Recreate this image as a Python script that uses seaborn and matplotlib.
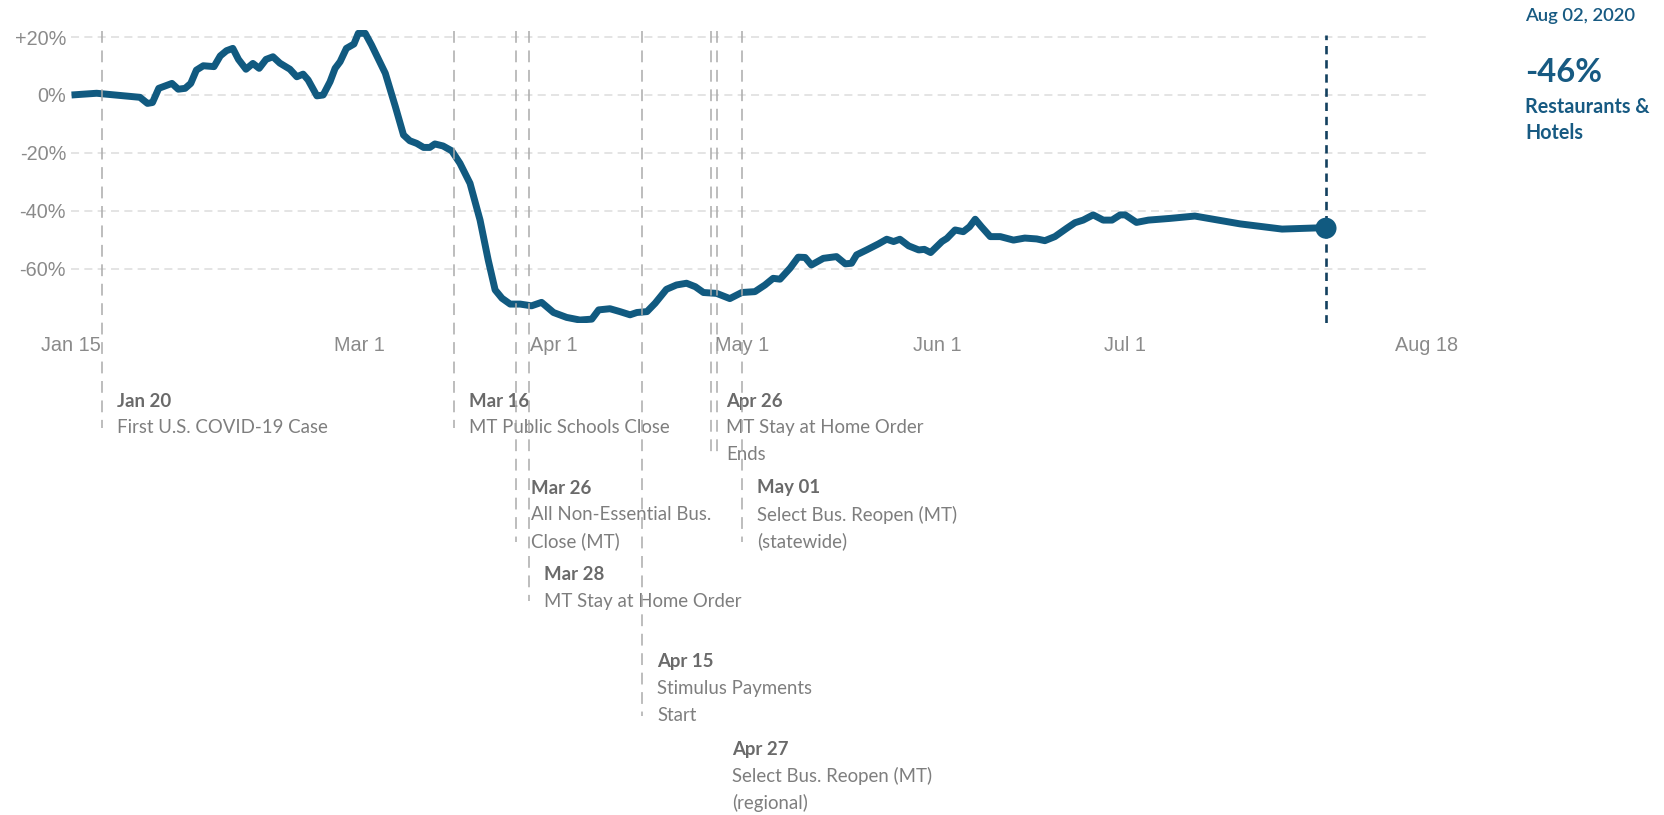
import numpy as np
import pandas as pd
import matplotlib
matplotlib.use("Agg")
import matplotlib.pyplot as plt
import matplotlib.dates as mdates
import matplotlib.transforms as mtransforms
from matplotlib.lines import Line2D
import seaborn as sns

# Consumer spending on restaurants & hotels, % change vs. January baseline
start_date = "2020-01-15"
days_since_start = [
    0.1, 4.1, 11.0, 12.2, 13.0, 14.0, 16.1, 17.1, 18.2, 19.1, 20.0, 21.1, 22.8,
    23.8, 24.8, 25.8, 26.7, 27.9, 29.0, 30.0, 31.1, 32.2, 33.3, 34.9, 36.0,
    37.0, 37.8, 39.2, 40.2, 41.3, 42.1, 42.9, 43.9, 45.1, 45.8, 46.9, 47.9,
    50.1, 51.7, 53.0, 54.0, 55.1, 56.2, 57.2, 58.0, 59.3, 60.7, 62.0, 63.6,
    65.2, 66.5, 67.6, 68.7, 70.0, 71.6, 73.4, 75.0, 76.9, 79.0, 81.1, 83.0,
    84.1, 85.9, 87.5, 89.1, 90.2, 91.8, 93.1, 94.9, 96.5, 98.1, 99.5, 100.8,
    102.9, 105.0, 106.9, 109.0, 110.6, 111.9, 113.0, 114.6, 115.9, 117.0,
    118.0, 119.9, 122.0, 123.4, 124.4, 125.2, 126.8, 128.7, 130.0, 131.1,
    132.1, 133.5, 135.1, 136.0, 137.0, 138.8, 139.6, 140.9, 142.2, 143.2,
    144.1, 145.1, 146.5, 148.1, 150.2, 152.0, 153.9, 155.2, 156.8, 158.7,
    160.0, 161.3, 162.9, 164.5, 165.9, 167.2, 168.0, 169.8, 171.7, 175.2,
    179.1, 186.3, 193.0, 198.5, 200.0,
]
spending_change = [
    0.0, 0.6, -0.8, -2.9, -2.6, 2.3, 4.0, 2.0, 2.3, 4.0, 8.6, 10.1, 9.8,
    13.5, 15.3, 16.1, 12.3, 8.9, 10.9, 9.2, 12.3, 13.2, 11.0, 8.9, 6.3,
    7.2, 5.2, -0.3, 0.0, 4.6, 9.2, 11.5, 16.1, 17.6, 21.3, 21.3, 17.3,
    7.5, -4.0, -13.8, -15.8, -16.7, -18.1, -18.1, -16.9, -17.6, -19.3, -23.6, -30.5,
    -43.2, -57.0, -67.3, -70.2, -72.2, -72.2, -72.8, -71.6, -75.1, -76.8, -77.7, -77.4,
    -74.2, -73.8, -74.8, -75.9, -75.1, -74.8, -71.9, -67.1, -65.6, -65.0, -66.2, -68.2,
    -68.5, -70.3, -68.2, -67.9, -65.6, -63.3, -63.6, -59.8, -56.0, -56.1,
    -58.7, -56.4, -55.8, -58.3, -58.1, -55.2, -53.5, -51.4, -49.8, -50.6,
    -49.8, -52.1, -53.5, -53.3, -54.4, -50.6, -49.5, -46.6, -47.2, -45.5,
    -42.9, -45.5, -48.9, -48.9, -50.1, -49.4, -49.7, -50.3, -48.9, -46.0,
    -44.1, -43.2, -41.4, -43.2, -43.2, -41.4, -41.4, -44.0, -43.2, -42.6,
    -41.8, -44.5, -46.3, -45.9, -46.0,
]
series_name = "Restaurants &\nHotels"

x_tick_dates = ["2020-01-15", "2020-03-01", "2020-04-01", "2020-05-01",
                "2020-06-01", "2020-07-01", "2020-08-18"]
x_tick_labels = ["Jan 15", "Mar 1", "Apr 1", "May 1", "Jun 1", "Jul 1", "Aug 18"]
y_ticks = [20, 0, -20, -40, -60]
y_tick_labels = ["+20%", "0%", "-20%", "-40%", "-60%"]

event_dates = ["2020-01-20", "2020-03-16", "2020-03-26", "2020-03-28",
               "2020-04-15", "2020-04-26", "2020-04-27", "2020-05-01"]
event_titles = ["Jan 20", "Mar 16", "Mar 26", "Mar 28",
                "Apr 15", "Apr 26", "Apr 27", "May 01"]
event_descriptions = [
    "First U.S. COVID-19 Case",
    "MT Public Schools Close",
    "All Non-Essential Bus.\nClose (MT)",
    "MT Stay at Home Order",
    "Stimulus Payments\nStart",
    "MT Stay at Home Order\nEnds",
    "Select Bus. Reopen (MT)\n(regional)",
    "Select Bus. Reopen (MT)\n(statewide)",
]

# annotation layout (rows below the axis, and where each marker line stops)
event_rows = [0, 0, 1, 2, 3, 0, 4, 1]
event_line_end_px = [428, 428, 542, 601, 716, 455, 455, 542]

# ---------------------------------------------------------------- styling
sns.set_theme(style="white")
plt.rcParams["lines.scale_dashes"] = False
plt.rcParams["font.family"] = ["Liberation Sans", "DejaVu Sans"]

LINE_BLUE = "#115a80"
TEXT_BLUE = "#175a82"
DARK_DASH = "#13405f"
EVENT_GRAY = "#ababab"
GRID_GRAY = "#dcdcdc"
TICK_GRAY = "#8a8a8a"
TITLE_GRAY = "#6a6a6a"
DESC_GRAY = "#7e7e7e"
ANNOT_FONT = ["Lato", "DejaVu Sans"]

W, H, DPI = 1665, 815, 100
fig = plt.figure(figsize=(W / DPI, H / DPI), dpi=DPI)
fig.patch.set_facecolor("white")

ax_left, ax_right, ax_top, ax_bottom = 70.9, 1426.4, 30.0, 323.0
ax = fig.add_axes([ax_left / W, 1 - ax_bottom / H,
                   (ax_right - ax_left) / W, (ax_bottom - ax_top) / H])

df = pd.DataFrame({
    "date": pd.Timestamp(start_date) + pd.to_timedelta(days_since_start, unit="D"),
    "change": spending_change,
})

# horizontal dashed grid
for yv in y_ticks:
    ax.axhline(yv, color=GRID_GRAY, lw=1.1, dashes=(5.8, 3.8), zorder=0)

# event marker lines and their labels, running below the axis
blend = mtransforms.blended_transform_factory(ax.transData, fig.transFigure)
text_tr = mtransforms.offset_copy(blend, fig=fig, x=15, y=0, units="dots")
row_y0, row_step, line_h = 401.0, 87.0, 26.8
line_top_px = 31.0
for d, title, desc, row, end_px in zip(event_dates, event_titles,
                                       event_descriptions, event_rows,
                                       event_line_end_px):
    xd = mdates.date2num(pd.Timestamp(d))
    fig.add_artist(Line2D([xd, xd], [1 - line_top_px / H, 1 - end_px / H],
                          transform=blend, color=EVENT_GRAY, lw=1.1,
                          dashes=(8.5, 5.5), zorder=1))
    ty = row_y0 + row * row_step
    ax.text(xd, 1 - ty / H, title, transform=text_tr, ha="left", va="center",
            fontsize=13.4, fontweight="bold", color=TITLE_GRAY,
            family=ANNOT_FONT, clip_on=False)
    for i, part in enumerate(desc.split("\n")):
        ax.text(xd, 1 - (ty + (i + 1) * line_h) / H, part, transform=text_tr,
                ha="left", va="center", fontsize=13.4, color=DESC_GRAY,
                family=ANNOT_FONT, clip_on=False)

# main series
sns.lineplot(data=df, x="date", y="change", ax=ax, color=LINE_BLUE,
             linewidth=5.0, zorder=4, solid_joinstyle="round",
             solid_capstyle="butt")

# latest value: dashed marker line and end dot
last_date = df["date"].iloc[-1]
last_val = df["change"].iloc[-1]
ax.axvline(last_date, ymin=0.0, ymax=(ax_bottom - 35) / (ax_bottom - ax_top),
           color=DARK_DASH, lw=1.9, dashes=(6.0, 4.2), zorder=3)
ax.scatter([last_date], [last_val], s=230, color=LINE_BLUE, zorder=5,
           edgecolors="none")

# axes
ax.set_xlim(pd.Timestamp("2020-01-15"), pd.Timestamp("2020-08-18"))
ylo = (95 - ax_bottom) / 2.896
yhi = (95 - ax_top) / 2.896
ax.set_ylim(ylo, yhi)
ax.set_xticks(pd.to_datetime(x_tick_dates))
ax.set_xticklabels(x_tick_labels)
ax.set_yticks(y_ticks)
ax.set_yticklabels(y_tick_labels)
ax.tick_params(axis="x", length=0, pad=9.5, labelsize=14.3, labelcolor=TICK_GRAY)
ax.tick_params(axis="y", length=0, pad=3.5, labelsize=14.3, labelcolor=TICK_GRAY)
ax.set_xlabel("")
ax.set_ylabel("")
ax.grid(False)
for s in ax.spines.values():
    s.set_visible(False)
ax.set_facecolor("none")

# side readout for the latest point
tx = 1525 / W
fig.text(tx, 1 - 16 / H, last_date.strftime("%b %d, %Y"), ha="left",
         va="center", fontsize=13.3, fontweight="semibold", color=TEXT_BLUE,
         family=ANNOT_FONT)
fig.text(tx, 1 - 72 / H, f"{last_val:.0f}%", ha="left", va="center",
         fontsize=23.5, fontweight="bold", color=TEXT_BLUE, family=ANNOT_FONT)
for i, part in enumerate(series_name.split("\n")):
    fig.text(tx, 1 - (107 + i * 26) / H, part, ha="left", va="center",
             fontsize=14.2, fontweight="bold", color=TEXT_BLUE,
             family=ANNOT_FONT)

fig.savefig("out.png", dpi=DPI, facecolor="white")
